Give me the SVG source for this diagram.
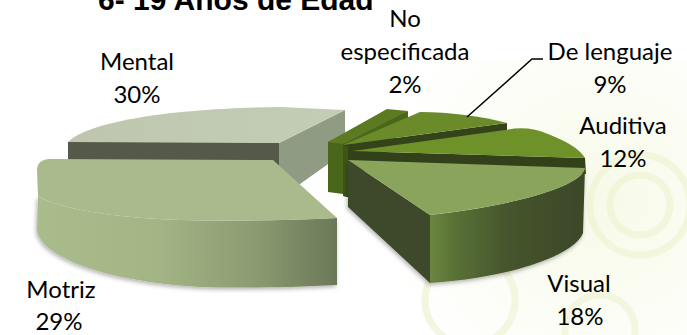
<svg xmlns="http://www.w3.org/2000/svg" width="687" height="335" viewBox="0 0 687 335">
<style>
.lbl{font-family:Lato,"Open Sans","Liberation Sans",sans-serif;font-size:24px;fill:#000;text-anchor:middle}
.title{font-family:"Liberation Sans",Arial,sans-serif;font-weight:bold;font-size:30px;fill:#000}
.deco{fill:none;stroke:#eef4d4;stroke-width:7;opacity:.7}
</style>
<defs>
<linearGradient id="gMotrizFront" x1="37" y1="0" x2="337" y2="0" gradientUnits="userSpaceOnUse">
<stop offset="0" stop-color="#aabb8c"/><stop offset="0.4" stop-color="#a3b485"/><stop offset="0.72" stop-color="#8c9c72"/><stop offset="1" stop-color="#6a7858"/>
</linearGradient>
<linearGradient id="gVisualFront" x1="430" y1="0" x2="585" y2="0" gradientUnits="userSpaceOnUse">
<stop offset="0" stop-color="#6c8640"/><stop offset="0.15" stop-color="#5a7236"/><stop offset="0.5" stop-color="#45552d"/><stop offset="1" stop-color="#3c4828"/>
</linearGradient>
<linearGradient id="gMentalTop" x1="68" y1="0" x2="345" y2="0" gradientUnits="userSpaceOnUse">
<stop offset="0" stop-color="#bec7ae"/><stop offset="1" stop-color="#c3ccb5"/>
</linearGradient>
<radialGradient id="gBg" cx="600" cy="200" r="220" gradientUnits="userSpaceOnUse">
<stop offset="0" stop-color="#f7fae8"/><stop offset="1" stop-color="#ffffff"/>
</radialGradient>
<filter id="sh" x="-10%" y="-10%" width="120%" height="130%">
<feDropShadow dx="-1" dy="2" stdDeviation="2" flood-color="#000" flood-opacity="0.3"/>
</filter>
</defs>
<rect width="687" height="335" fill="#fff"/>
<rect x="380" y="60" width="307" height="275" fill="url(#gBg)"/>
<g id="decoration">
<circle class="deco" cx="640" cy="205" r="50"/>
<circle class="deco" cx="640" cy="205" r="30"/>
<circle class="deco" cx="470" cy="300" r="45"/>
<circle class="deco" cx="600" cy="330" r="35"/>
</g>
<text class="title" x="98" y="10">6- 19 Años de Edad</text>

<g id="mental">
<polygon points="279,143 345,110 345,152 300,184 279,190" fill="#909b83"/>
<rect x="68" y="142" width="211" height="25" fill="#545949"/>
<path d="M68,142 C90,120 180,108 280,107 L345,110 L279,143 Z" fill="url(#gMentalTop)"/>
<text class="lbl" x="137" y="70">Mental</text>
<text class="lbl" x="137" y="103">30%</text>
</g>

<g id="no-especificada">
<polygon points="328,142 408,111 408,124 343,194 328,192" fill="#4a661a"/>
<polygon points="328,142 387,109 408,111 343,144" fill="#5b7a22"/>
<text class="lbl" x="405" y="27">No</text>
<text class="lbl" x="405" y="60">especificada</text>
<text class="lbl" x="405" y="93">2%</text>
</g>

<g id="de-lenguaje">
<polygon points="343,145 507,123 507,132 360,153 348,197 343,196" fill="#34431a"/>
<polygon points="343,145 348,147 348,197 343,196" fill="#3e5516"/>
<path d="M343,145 L420,112 C450,112 480,116 507,123 Z" fill="#6b8a2a"/>
<text class="lbl" x="610" y="60">De lenguaje</text>
<text class="lbl" x="610" y="93">9%</text>
</g>

<g id="auditiva">
<polygon points="352,151 585,158 586,174 350,166" fill="#33411a"/>
<path d="M360,150 L505,130 C520,127 535,128 548,134 C566,141 580,149 585,158 L352,151 Z" fill="#6f912a"/>
<text class="lbl" x="623" y="134">Auditiva</text>
<text class="lbl" x="623" y="167">12%</text>
</g>

<g id="visual">
<g filter="url(#sh)">
<path d="M430,215 C520,205 583,185 585,168 L583,233 C575,255 510,278 430,283 Z" fill="url(#gVisualFront)"/>
<polygon points="348,160 430,215 430,283 348,207" fill="#3e4a2b"/>
</g>
<path d="M348,160 L585,168 C583,185 520,205 430,215 Z" fill="#8ba45b"/>
<text class="lbl" x="579" y="292">Visual</text>
<text class="lbl" x="580" y="325">18%</text>
</g>

<g id="motriz">
<path filter="url(#sh)" d="M38,196 C55,207 110,218 180,220 C220,221 280,221 337,218 L337,285 C280,288 230,288 200,287 C130,283 70,268 45,245 C39,238 37,234 37,228 Z" fill="url(#gMotrizFront)"/>
<path d="M50,159 L273,160 L337,218 C280,221 220,221 180,220 C110,218 55,207 38,196 L37,170 C37,163 42,159 50,159 Z" fill="#a9ba8c"/>
<text class="lbl" x="61" y="298">Motriz</text>
<text class="lbl" x="59" y="330">29%</text>
</g>

<g id="connectors">
<polyline points="543,59 532,59 467,117" fill="none" stroke="#000" stroke-width="1.5"/>
</g>
</svg>
